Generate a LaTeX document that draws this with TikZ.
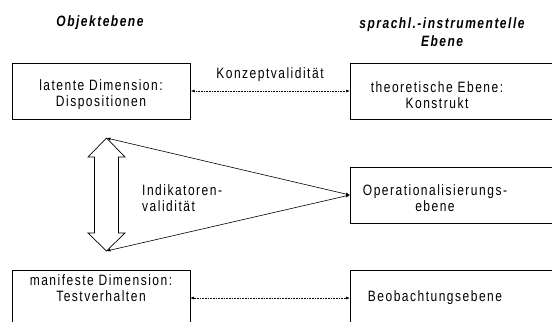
\documentclass[tikz,border=0pt]{standalone}
\usepackage{fontspec}
\setmainfont{Liberation Sans}[LetterSpace=10, FakeStretch=0.8]
\usetikzlibrary{arrows.meta}
\begin{document}
\begin{tikzpicture}[x=1bp,y=-1bp,
  every node/.style={font=\fontsize{15bp}{16bp}\selectfont, inner sep=0pt},
  box/.style={draw, line width=0.7bp, minimum height=56bp, anchor=west},
  label/.style={align=center},
  head/.style={font=\fontsize{15bp}{18bp}\selectfont\bfseries\itshape, align=center},
  dotlink/.style={draw, line width=0.6bp, densely dotted, {Latex[length=4bp,width=3bp]}-{Latex[length=4bp,width=3bp]}},
  link/.style={draw, line width=0.6bp, {Latex[length=4bp,width=3bp]}-{Latex[length=4bp,width=3bp]}}]
\useasboundingbox (0,0) rectangle (552,321);
\clip (0,0) rectangle (552,321);

% column headings
\node[head] (hobj) at (100,23) {Objektebene};
\node[head] (hspr) at (442,32) {sprachl.-instrumentelle\\Ebene};

% object level boxes
\node[box, minimum width=178bp] (lat) at (12,91) {};
\node[label] (lattxt) at (101,95) {latente Dimension:\\Dispositionen};
\node[box, minimum width=178bp, minimum height=60bp] (man) at (12,300) {};
\node[label] (mantxt) at (101,288) {manifeste Dimension:\\Testverhalten};

% language-instrumental level boxes
\node[box, minimum width=230bp] (theo) at (350,91) {};
\node[label] (theotxt) at (437,95) {theoretische Ebene:\\Konstrukt};
\node[box, minimum width=230bp] (oper) at (350,195) {};
\node[label] (opertxt) at (435,198) {Operationalisierungs-\\ebene};
\node[box, minimum width=230bp, minimum height=60bp] (beob) at (350,300) {};
\node[label] (beobtxt) at (435,298) {Beobachtungsebene};

% horizontal links
\node (konz) at (270,75) {Konzeptvalidität};
\coordinate (bl) at (190,298);
\coordinate (br) at (350,298);
\path[dotlink] (lat.east) -- (theo.west);
\path[dotlink] (bl) -- (br);

% vertical double arrow
\coordinate (tipT) at (106.5,138);
\coordinate (tipB) at (106.5,251);
\draw[line width=0.7bp, fill=white]
  (tipT) -- (125,157) -- (118.5,157) -- (118.5,233) -- (125,233) -- (tipB)
  -- (88,233) -- (94.5,233) -- (94.5,157) -- (88,157) -- cycle;

% indicator links
\path[link] (tipT) -- (oper.west);
\path[link] (tipB) -- (oper.west);
\node[align=left, anchor=west] (ind) at (142,198) {Indikatoren-\\validität};
\end{tikzpicture}
\end{document}
